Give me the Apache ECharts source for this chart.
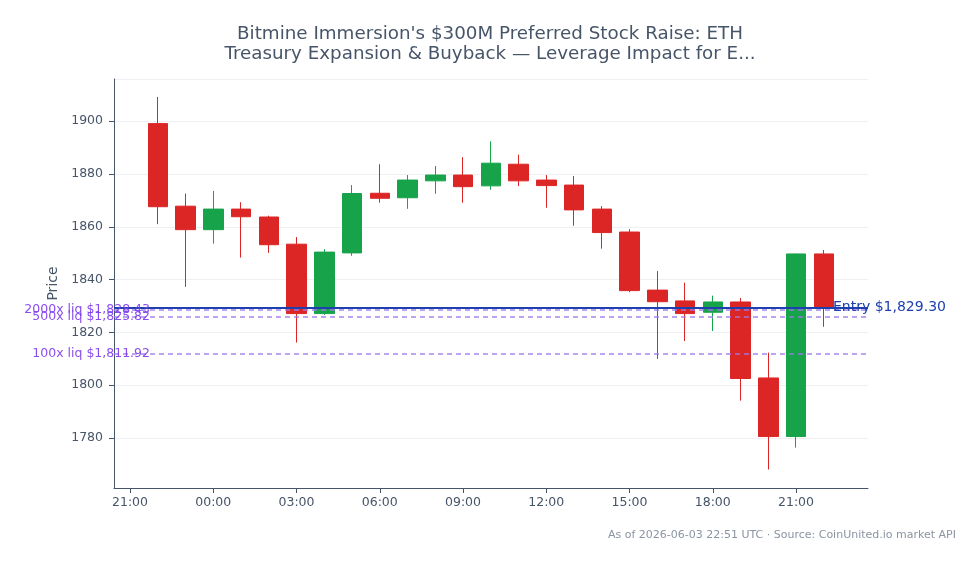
<!DOCTYPE html>
<html>
<head>
<meta charset="utf-8">
<script src="https://cdn.jsdelivr.net/npm/echarts@6/dist/echarts.min.js"></script>
<style>html,body{margin:0;padding:0;background:#fff}#c{width:980px;height:564px}</style>
</head>
<body>
<div id="c"></div>
<script>
const times = ['2026-06-02T22:00:00Z','2026-06-02T23:00:00Z','2026-06-03T00:00:00Z','2026-06-03T01:00:00Z','2026-06-03T02:00:00Z','2026-06-03T03:00:00Z','2026-06-03T04:00:00Z','2026-06-03T05:00:00Z','2026-06-03T06:00:00Z','2026-06-03T07:00:00Z','2026-06-03T08:00:00Z','2026-06-03T09:00:00Z','2026-06-03T10:00:00Z','2026-06-03T11:00:00Z','2026-06-03T12:00:00Z','2026-06-03T13:00:00Z','2026-06-03T14:00:00Z','2026-06-03T15:00:00Z','2026-06-03T16:00:00Z','2026-06-03T17:00:00Z','2026-06-03T18:00:00Z','2026-06-03T19:00:00Z','2026-06-03T20:00:00Z','2026-06-03T21:00:00Z','2026-06-03T22:00:00Z'];
const opens  = [1899.1,1867.8,1858.9,1866.7,1863.7,1853.4,1827.1,1850.1,1872.7,1871.0,1877.4,1879.6,1875.5,1883.7,1877.7,1875.8,1866.7,1858.0,1836.0,1831.9,1827.6,1831.5,1802.7,1780.5,1849.7];
const closes = [1867.6,1858.9,1866.7,1863.8,1853.2,1827.1,1850.4,1872.6,1870.8,1877.7,1879.6,1875.2,1884.1,1877.4,1875.6,1866.4,1857.8,1835.8,1831.6,1827.1,1831.5,1802.5,1780.5,1849.7,1829.3];
const lows   = [1861.0,1837.2,1853.6,1848.3,1850.1,1816.1,1826.6,1849.0,1869.1,1866.8,1872.5,1869.1,1874.0,1875.4,1867.2,1860.4,1851.7,1835.2,1809.9,1816.7,1820.5,1794.1,1768.0,1776.3,1822.1];
const highs  = [1909.2,1872.6,1873.6,1869.3,1864.2,1856.1,1851.5,1875.8,1883.7,1879.6,1883.0,1886.4,1892.4,1887.3,1879.6,1879.2,1867.8,1859.1,1843.2,1838.8,1833.9,1833.0,1812.3,1849.8,1851.2];
const xTickTimes = ['2026-06-02T21:00:00Z','2026-06-03T00:00:00Z','2026-06-03T03:00:00Z','2026-06-03T06:00:00Z','2026-06-03T09:00:00Z','2026-06-03T12:00:00Z','2026-06-03T15:00:00Z','2026-06-03T18:00:00Z','2026-06-03T21:00:00Z'];
const entryPrice = 1829.30;
const liqLabels = ['2000x liq $1,828.43','500x liq $1,825.82','100x liq $1,811.92'];
const liqPrices = [1828.43,1825.82,1811.92];
const titleText = "Bitmine Immersion's $300M Preferred Stock Raise: ETH\nTreasury Expansion & Buyback \u2014 Leverage Impact for E...";
const footerText = 'As of 2026-06-03 22:51 UTC \u00b7 Source: CoinUnited.io market API';

const FONT = 'DejaVu Sans';
const candleData = times.map((t,i)=>[new Date(t).getTime(), opens[i], closes[i], lows[i], highs[i]]);
const xTicks = xTickTimes.map(t=>new Date(t).getTime());
const markData = [{
  yAxis: entryPrice,
  lineStyle:{color:'#1e40af', width:2, type:'solid'},
  label:{show:true, position:'end', distance:-35, formatter:'Entry $1,829.30', color:'#1e40af', fontSize:14, fontFamily:FONT}
}].concat(liqPrices.map((p,i)=>({
  yAxis: p,
  lineStyle:{color:'#9f7aea', width:1.5, type:[5,4], opacity:0.9},
  label:{show:true, position:'start', distance:-36, formatter:liqLabels[i], color:'#7c3aed', fontSize:12.5, fontFamily:FONT}
})));

function pad(n){return (n<10?'0':'')+n;}
const chart = echarts.init(document.getElementById('c'));
chart.setOption({
  animation: false,
  backgroundColor: '#ffffff',
  textStyle: {fontFamily: FONT},
  title: {
    text: titleText, left: 'center', top: 19,
    textStyle: {color:'#475569', fontSize:18.3, fontWeight:'normal', lineHeight:20.5, fontFamily:FONT}
  },
  grid: {left:114, right:112, top:79, bottom:76},
  xAxis: {
    type:'value', scale:true,
    min: new Date('2026-06-02T20:25:24Z').getTime(), max: new Date('2026-06-03T23:35:40Z').getTime(),
    axisLine:{lineStyle:{color:'#475569'}},
    axisTick:{show:true, customValues: xTicks, lineStyle:{color:'#475569'}},
    splitLine:{show:false},
    axisLabel:{color:'#475569', fontSize:12.5, customValues: xTicks, fontFamily:FONT,
      formatter:function(v){const d=new Date(v);return pad(d.getUTCHours())+':'+pad(d.getUTCMinutes());}}
  },
  yAxis: {
    type:'value', min:1761, max:1916, splitNumber:8,
    name:'Price', nameLocation:'middle', nameGap:53,
    nameTextStyle:{color:'#475569', fontSize:14, fontFamily:FONT},
    axisLine:{show:true, lineStyle:{color:'#475569'}},
    axisTick:{show:true, lineStyle:{color:'#475569'}},
    splitLine:{lineStyle:{color:'#eef0f3'}},
    axisLabel:{color:'#475569', fontSize:12.5, margin:11, showMinLabel:false, showMaxLabel:false, fontFamily:FONT,
      formatter:function(v){return String(v);}}
  },
  series: [{
    type:'candlestick',
    data: candleData,
    barWidth: 20,
    itemStyle:{color:'#16a34a', color0:'#dc2626', borderColor:'#16a34a', borderColor0:'#dc2626', borderWidth:1},
    markLine:{symbol:['none','none'], silent:true, data: markData}
  }],
  graphic: [{
    type:'text', right:24, top:530,
    style:{text: footerText, fill:'#8b94a3', fontSize:11, fontFamily:FONT}
  }]
});
</script>
</body>
</html>
